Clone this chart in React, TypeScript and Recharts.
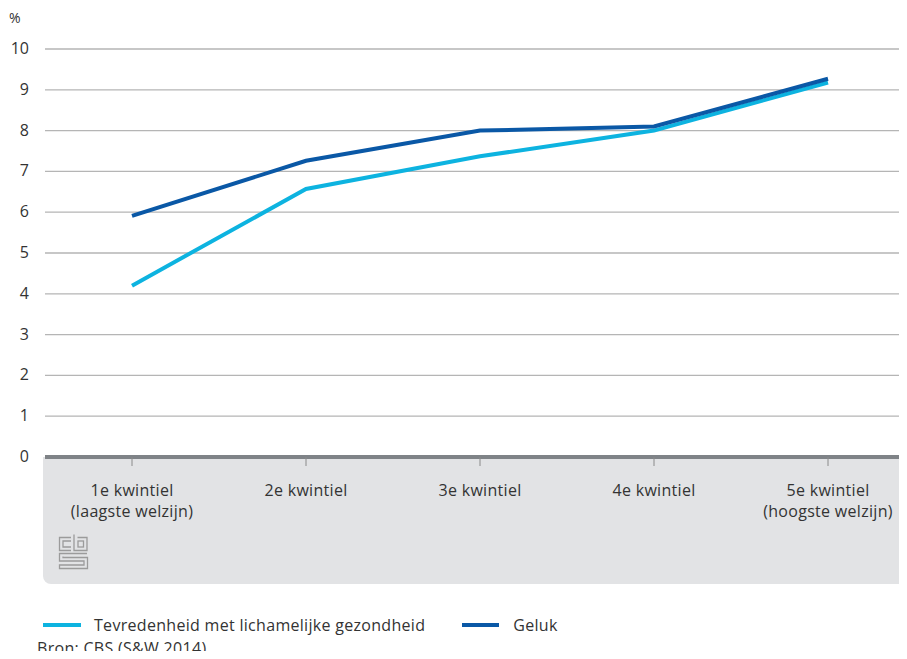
import React from "react";
import { LineChart, Line, XAxis, YAxis, CartesianGrid } from "recharts";

const categories = [
  "1e kwintiel\n(laagste welzijn)",
  "2e kwintiel",
  "3e kwintiel",
  "4e kwintiel",
  "5e kwintiel\n(hoogste welzijn)",
];
const tevredenheid = [4.2, 6.57, 7.37, 8.0, 9.18];
const geluk = [5.91, 7.26, 8.0, 8.1, 9.27];
const yTicks = [0, 1, 2, 3, 4, 5, 6, 7, 8, 9, 10];
const seriesNames = ["Tevredenheid met lichamelijke gezondheid", "Geluk"];
const seriesColors = ["#0db3e0", "#0a58a6"];
const sourceText = "Bron: CBS (S&W 2014).";

const data = categories.map((c, i) => ({
  cat: c,
  tevredenheid: tevredenheid[i],
  geluk: geluk[i],
}));

const FONT = "'Open Sans', sans-serif";
const TEXT = "#333";

const XTick = (props: any) => {
  const { x, y, payload } = props;
  const lines = String(payload.value).split("\n");
  return (
    <g transform={`translate(${x},${y})`}>
      {lines.map((l: string, i: number) => (
        <text
          key={i}
          x={0}
          y={0}
          dy={29 + i * 21}
          textAnchor="middle"
          fill={TEXT}
          fontSize={16}
          fontFamily={FONT}
          letterSpacing={0.3}
        >
          {l}
        </text>
      ))}
    </g>
  );
};

const YTick = (props: any) => {
  const { x, y, payload } = props;
  return (
    <text
      x={x}
      y={y}
      dy={5}
      textAnchor="end"
      fill={TEXT}
      fontSize={16}
      fontFamily={FONT}
    >
      {payload.value}
    </text>
  );
};

const Logo = () => (
  <svg
    width={40}
    height={45}
    style={{ position: "absolute", left: 52, top: 528 }}
    viewBox="52 528 40 45"
  >
    <g fill="none" stroke="#9b9b9b" strokeWidth={1.3}>
      <path d="M71 537.5 H59.5 V550.5 H71" />
      <path d="M71 541 H63 V547 H71" />
      <path d="M74 534.5 V550.5 H87 V537.5 H77.5" />
      <rect x={78} y={541} width={5.5} height={6} />
      <path d="M87 553.5 H59.5 V561 H84 V565 H59.5 V568.5 H87.5 V557.5 H63 V556.5" />
    </g>
  </svg>
);

export default function App() {
  return (
    <div
      style={{
        margin: -8,
        width: 907,
        height: 659,
        overflow: "hidden",
        position: "relative",
        background: "#fff",
        fontFamily: FONT,
      }}
    >
      <div
        style={{
          position: "absolute",
          left: 43,
          top: 457,
          width: 880,
          height: 127,
          background: "#e2e3e5",
          borderBottomLeftRadius: 8,
        }}
      />
      <Logo />
      <div style={{ position: "absolute", left: 0, top: 0 }}>
        <LineChart
          width={915}
          height={659}
          data={data}
          margin={{ top: 49, right: 0, left: 0, bottom: 75 }}
        >
          <CartesianGrid
            vertical={false}
            horizontal={true}
            stroke="#b5b5b5"
            strokeWidth={1.3}
          />
          <XAxis
            dataKey="cat"
            interval={0}
            height={127}
            padding={{ left: 87, right: 87 }}
            axisLine={{ stroke: "#7f8387", strokeWidth: 4 }}
            tickLine={{ stroke: "#8a8a8a", strokeWidth: 1 }}
            tickSize={9}
            tickMargin={1}
            tick={<XTick />}
          />
          <YAxis
            width={45}
            domain={[0, 10]}
            ticks={yTicks}
            interval={0}
            axisLine={false}
            tickLine={false}
            tickSize={0}
            tickMargin={16}
            tick={<YTick />}
          />
          <Line
            type="linear"
            dataKey="tevredenheid"
            name={seriesNames[0]}
            stroke={seriesColors[0]}
            strokeWidth={4}
            dot={false}
            isAnimationActive={false}
          />
          <Line
            type="linear"
            dataKey="geluk"
            name={seriesNames[1]}
            stroke={seriesColors[1]}
            strokeWidth={4}
            dot={false}
            isAnimationActive={false}
          />
        </LineChart>
      </div>
      <div
        style={{
          position: "absolute",
          left: 9,
          top: 8,
          fontSize: 14,
          color: TEXT,
        }}
      >
        %
      </div>
      <div
        style={{
          position: "absolute",
          left: 43,
          top: 614,
          display: "flex",
          alignItems: "center",
          fontSize: 16,
          color: TEXT,
          letterSpacing: 0.3,
          whiteSpace: "nowrap",
        }}
      >
        <span
          style={{
            display: "inline-block",
            width: 38,
            height: 4,
            background: seriesColors[0],
            marginRight: 13,
          }}
        />
        <span style={{ marginRight: 37 }}>{seriesNames[0]}</span>
        <span
          style={{
            display: "inline-block",
            width: 37,
            height: 4,
            background: seriesColors[1],
            marginRight: 14,
          }}
        />
        <span>{seriesNames[1]}</span>
      </div>
      <div
        style={{
          position: "absolute",
          left: 37,
          top: 637,
          fontSize: 16,
          lineHeight: "22px",
          color: TEXT,
          letterSpacing: 0.3,
          whiteSpace: "nowrap",
        }}
      >
        {sourceText}
      </div>
    </div>
  );
}
